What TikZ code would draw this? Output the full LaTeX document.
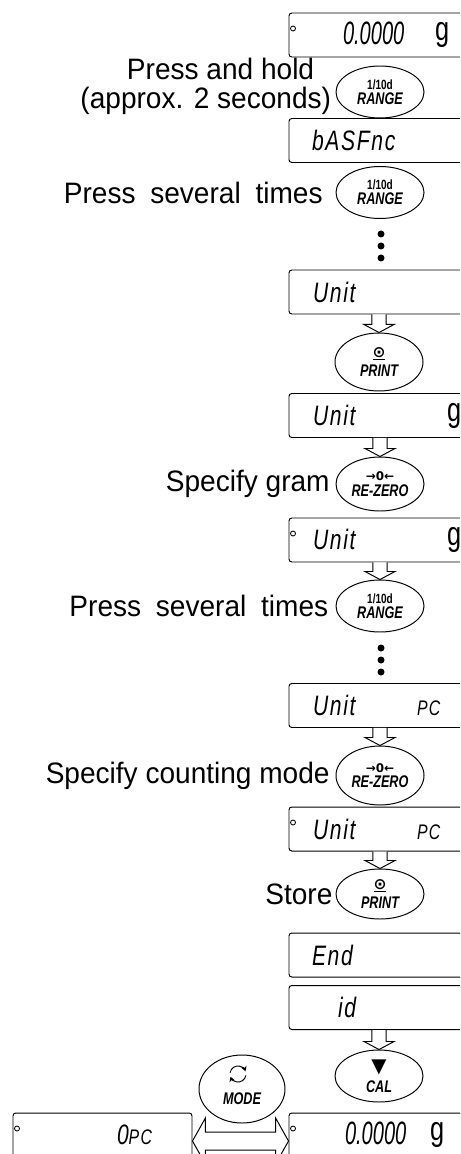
\documentclass[tikz,border=0pt]{standalone}
\usepackage{fontspec}
\setmainfont[FakeStretch=0.95]{Liberation Sans}
\newfontfamily\lcdfont[FakeStretch=0.75,LetterSpace=6]{Liberation Sans}
\newfontfamily\digitfont[FakeStretch=0.62]{Liberation Sans}
\newfontfamily\keyfont[FakeStretch=0.75]{Liberation Sans}
\newfontfamily\symfont{DejaVu Sans}
\usetikzlibrary{arrows.meta,positioning,calc,shapes.geometric}

\newlength{\px}\setlength{\px}{0.025cm}
% display text: offset, reading, offset, unit
\newcommand{\lcd}[4]{%
  \makebox[0pt][l]{\hspace*{#1\px}\itshape #2}%
  \makebox[0pt][l]{\hspace*{#3\px}#4}}
\newcommand{\keylab}[3][-1pt]{%
  {\fontsize{9.5}{10}\selectfont #2}\\[#1]
  {\fontsize{12}{12}\selectfont\itshape #3}}
% hollow arrow from display #1 down to key #2
\newcommand{\hollowdown}[2]{%
  \draw[hollow] let \p1=(#1.south -| #2.north), \p2=(#2.north) in
    (\x1-5pt,\y1) -- (\x1-5pt,\y2+5.7pt) -- (\x1-10.7pt,\y2+5.7pt)
    -- (\x2,\y2) -- (\x1+10.7pt,\y2+5.7pt) -- (\x1+5pt,\y2+5.7pt)
    -- (\x1+5pt,\y1);}
\newcommand{\unitg}{{\upshape\fontsize{24}{24}\selectfont\raisebox{3pt}{g}}}
\newcommand{\unitpc}{{\fontsize{15}{15}\selectfont PC}}
\newcommand{\zeroread}{{\digitfont\itshape\fontsize{23}{23}\selectfont 0.0000}}

\begin{document}
\begin{tikzpicture}[
  x=0.025cm,y=-0.025cm,>=Latex,
  lcd/.style={draw,rounded corners=2pt,line width=0.7pt,minimum width=179\px,
    minimum height=44\px,text width=179\px,inner sep=0pt,align=left,
    font=\lcdfont\fontsize{20}{20}\selectfont},
  key/.style={draw,ellipse,line width=0.7pt,inner sep=0pt,
    minimum width=88\px,minimum height=52\px,align=center,
    font=\keyfont\bfseries},
  hollow/.style={draw,line width=0.7pt,fill=white},
  lbl/.style={inner sep=0pt,align=right,
    font=\fontsize{21}{20}\selectfont}
]
  \useasboundingbox (0,0) rectangle (460,1154);
  \clip (0,0) rectangle (460,1154);

  % displays
  \node[lcd] (zero) at (378.5,35) {\lcd{54}{\zeroread}{146}{\unitg}};
  \node[lcd] (basfnc) at (378.5,140.5) {\lcd{23}{bASFnc}{0}{}};
  \node[lcd] (unit) at (378.5,292) {\lcd{24}{Unit}{0}{}};
  \node[lcd] (unitg) at (378.5,415.5) {\lcd{24}{Unit}{158}{\unitg}};
  \node[lcd] (unitgset) at (378.5,540) {\lcd{24}{Unit}{158}{\unitg}};
  \node[lcd] (unitpc) at (378.5,705.5)
    {\lcd{24}{Unit}{128}{\itshape\unitpc}};
  \node[lcd] (unitpcset) at (378.5,829)
    {\lcd{24}{Unit}{128}{\itshape\unitpc}};
  \node[lcd] (finish) at (378.5,955) {\lcd{23}{End}{0}{}};
  \node[lcd] (idno) at (378.5,1007.5) {\lcd{49}{id}{0}{}};
  \node[lcd] (weigh) at (378.5,1135) {\lcd{56}{\zeroread}{141}{\unitg}};
  \node[lcd] (count) at (102.5,1135) {\lcd{104}{0\unitpc}{0}{}};
  \foreach \n in {zero,unitgset,unitpcset,weigh,count}
    \draw[line width=0.6pt] ($(\n.north west)+(4.5,16)$) circle (2.5);

  % keys
  \node[key] (range1) at (380,92) {\keylab{1/10d}{RANGE}};
  \node[key] (range2) at (380,192.5) {\keylab{1/10d}{RANGE}};
  \node[key,minimum height=58\px] (print1) at (379,362)
    {\keylab[2pt]{\underline{\symfont\fontsize{11}{11}\selectfont ⊙}}{PRINT}};
  \node[key,minimum height=54\px] (rezero1) at (380,484)
    {\keylab{\symfont\fontsize{8.5}{8.5}\selectfont\bfseries →0←}{RE-ZERO}};
  \node[key] (range3) at (380,606) {\keylab{1/10d}{RANGE}};
  \node[key,minimum height=59\px] (rezero2) at (380,775.5)
    {\keylab{\symfont\fontsize{8.5}{8.5}\selectfont\bfseries →0←}{RE-ZERO}};
  \node[key,minimum height=50\px] (print2) at (380,894)
    {\keylab[2pt]{\underline{\symfont\fontsize{11}{11}\selectfont ⊙}}{PRINT}};
  \node[key] (cal) at (379,1076)
    {\keylab[2pt]{\symfont\fontsize{14}{14}\selectfont ▼}{CAL}};
  \node[key,minimum width=86\px,minimum height=68\px] (mode) at (242,1089)
    {\keylab{\rule{0pt}{11pt}}{MODE}};
  \coordinate (modeicon) at ($(mode.center)+(-4,-15)$);
  \draw[line width=0.7pt,-{Stealth[length=3.5pt,width=4pt]}]
    ($(modeicon)+(190:8)$) arc[start angle=190,end angle=340,radius=8];
  \draw[line width=0.7pt,-{Stealth[length=3.5pt,width=4pt]}]
    ($(modeicon)+(10:8)$) arc[start angle=10,end angle=160,radius=8];

  % labels
  \node[lbl,left=3pt of range1,yshift=4pt] (holdlbl)
    {Press and hold\hspace*{12pt}\\(approx. 2 seconds)};
  \node[lbl,left=9pt of range2] (severallbl1)
    {Press\enspace several\enspace times};
  \node[lbl,left=4pt of rezero1] (gramlbl) {Specify gram};
  \node[lbl,left=5pt of range3] (severallbl2)
    {Press\enspace several\enspace times};
  \node[lbl,left=4pt of rezero2] (countlbl) {Specify counting mode};
  \node[lbl,left=2pt of print2] (storelbl) {Store};

  % dots
  \foreach \y in {234,246,258,648,660,672}
    \fill (381,\y) circle (3.5);

  % arrows
  \hollowdown{unit}{print1}
  \hollowdown{unitg}{rezero1}
  \hollowdown{unitgset}{range3}
  \hollowdown{unitpc}{rezero2}
  \hollowdown{unitpcset}{print2}
  \hollowdown{idno}{cal}
  \draw[hollow] let \p1=($(count.east)+(0,6)$), \p2=($(weigh.west)+(0,6)$) in
    (\x1,\y1) -- (\x1+9.2pt,\y1+16.4pt) -- (\x1+9.2pt,\y1+6.4pt)
    -- (\x2-9.2pt,\y1+6.4pt) -- (\x2-9.2pt,\y1+16.4pt) -- (\x2,\y1)
    -- (\x2-9.2pt,\y1-16.4pt) -- (\x2-9.2pt,\y1-6.4pt)
    -- (\x1+9.2pt,\y1-6.4pt) -- (\x1+9.2pt,\y1-16.4pt) -- cycle;
\end{tikzpicture}
\end{document}
